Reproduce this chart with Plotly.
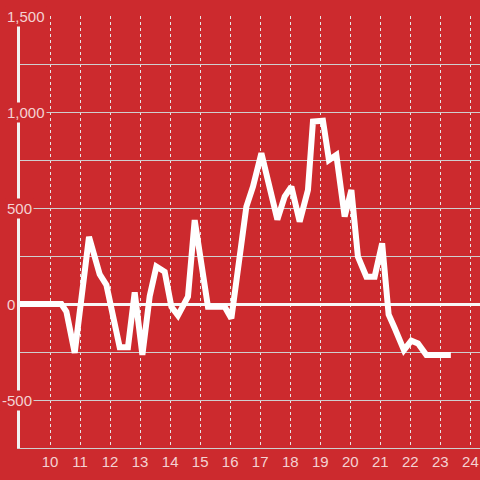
import plotly.graph_objects as go

# --- data ---
x_vals = [9.0, 10.379, 10.545, 10.822, 11.298, 11.654, 11.877, 12.32, 12.596, 12.82,
          13.076, 13.319, 13.542, 13.819, 14.042, 14.261, 14.594, 14.818, 15.26, 15.817,
          16.04, 16.539, 16.759, 17.039, 17.571, 17.815, 18.038, 18.314, 18.59, 18.757,
          19.09, 19.29, 19.536, 19.813, 20.036, 20.255, 20.535, 20.811, 21.061, 21.277,
          21.477, 21.787, 22.033, 22.253, 22.533, 23.35]
y_vals = [0, 0, -40, -255, 350, 155, 100, -225, -225, 60,
          -265, 40, 195, 168, -14, -60, 38, 437, -14, -14,
          -75, 507, 611, 785, 440, 559, 611, 429, 594, 950,
          955, 750, 776, 455, 594, 246, 142, 142, 316, -55,
          -125, -240, -191, -205, -266, -266]

x_ticks = list(range(10, 25))
y_grid = [-750, -500, -250, 0, 250, 500, 750, 1000, 1250, 1500]
y_labels = [1500, 1000, 500, 0, -500]

BG = "#cc2a2e"
LABEL = "#f4d2d3"
GRID = "#cfcfcf"
FONT = "Liberation Sans, Arial, sans-serif"

fig = go.Figure()
fig.add_trace(go.Scatter(
    x=x_vals, y=y_vals, mode="lines",
    line=dict(color="#ffffff", width=6),
    hoverinfo="skip", showlegend=False,
))

annotations = []
for v in y_labels:
    annotations.append(dict(
        x=0, xref="paper", y=v, yref="y",
        text=f"{v:,}", showarrow=False,
        xanchor="left", yanchor="middle",
        xshift=-15 - (5 if v < 0 else 0),
        font=dict(family=FONT, size=15, color=LABEL),
        bgcolor=BG, borderpad=1,
    ))

fig.update_layout(
    width=480, height=480,
    margin=dict(l=20, r=0, t=16, b=32),
    paper_bgcolor=BG, plot_bgcolor=BG,
    font=dict(family=FONT, size=15, color=LABEL),
    annotations=annotations,
    xaxis=dict(
        range=[9, 24.32], tickvals=x_ticks, ticks="",
        showgrid=True, gridcolor="#e6e6e6", gridwidth=1, griddash="dot",
        showline=True, linecolor=GRID, linewidth=1,
        zeroline=False, tickfont=dict(size=15, color=LABEL),
        fixedrange=True,
    ),
    yaxis=dict(
        range=[-750, 1500], tickvals=y_grid, showticklabels=False, ticks="",
        showgrid=True, gridcolor=GRID, gridwidth=1,
        zeroline=True, zerolinecolor="#f7f7f7", zerolinewidth=3,
        showline=True, linecolor="#f2f2f2", linewidth=3,
        fixedrange=True,
    ),
)

fig.write_html("out.html", config={"displayModeBar": False})

# remove default page margins so the figure sits at the window origin
with open("out.html", "r", encoding="utf-8") as f:
    html = f.read()
html = html.replace("<head>", "<head><style>html,body{margin:0;padding:0;overflow:hidden;background:%s}</style>" % BG, 1)
with open("out.html", "w", encoding="utf-8") as f:
    f.write(html)
